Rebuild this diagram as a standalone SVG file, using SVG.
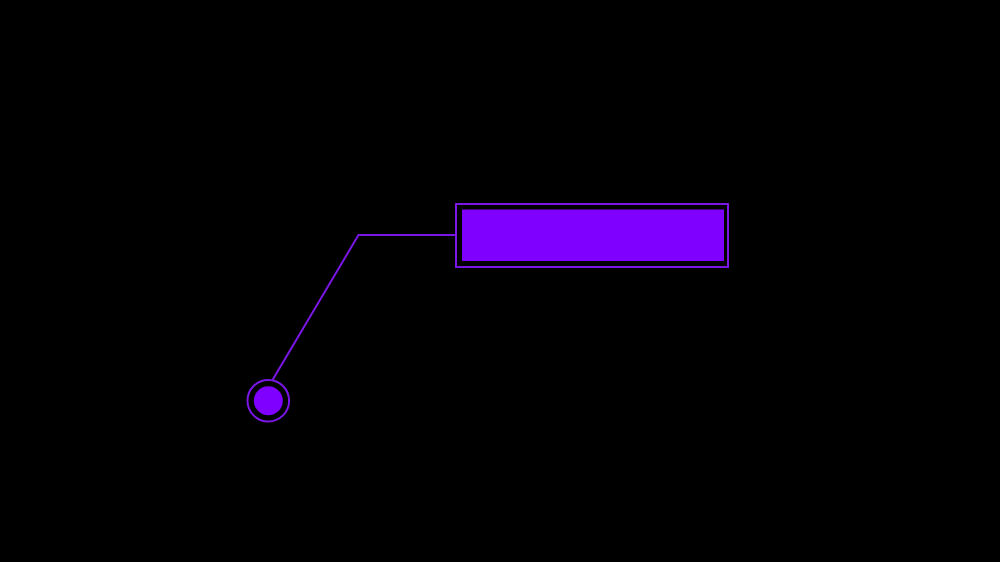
<svg xmlns="http://www.w3.org/2000/svg" width="1000" height="562" viewBox="0 0 1000 562">
<style>
.outline{fill:none;stroke:#7a16e6;stroke-width:2}
.solid{fill:#8000ff}
.conn{fill:none;stroke:#7a16e6;stroke-width:2}
</style>
<rect width="1000" height="562" fill="#000"/>
<g id="connectors">
<polyline class="conn" points="455,235 358.5,235 272.5,380"/>
</g>
<g id="label-box">
<rect class="outline" x="456" y="204" width="272" height="63"/>
<rect class="solid" x="462" y="209.5" width="262" height="51.5"/>
</g>
<g id="anchor-dot">
<circle class="outline" cx="268.3" cy="400.7" r="20.8"/>
<circle class="solid" cx="268.3" cy="400.7" r="14.5"/>
</g>
</svg>
